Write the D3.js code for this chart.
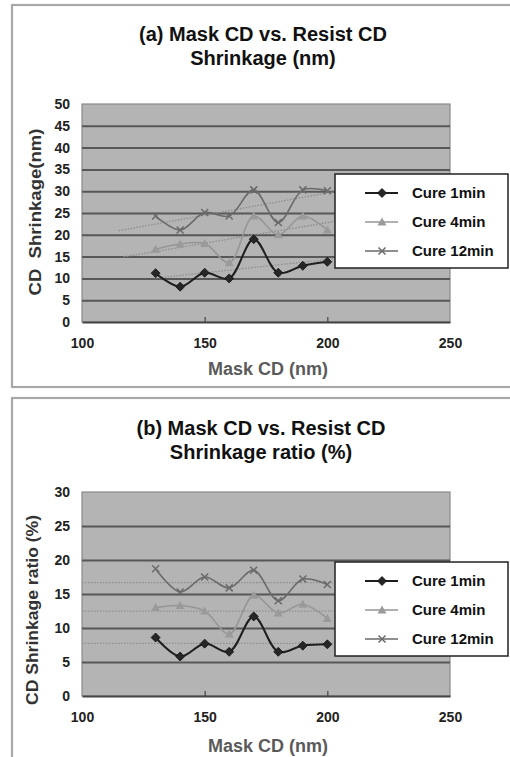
<!DOCTYPE html>
<html>
<head>
<meta charset="utf-8">
<script src="https://cdn.jsdelivr.net/npm/d3@7"></script>
<style>
  body { margin: 0; background: #fff; }
  svg { display: block; font-family: "Liberation Sans", Arial, sans-serif; }
  .tick text { font-weight: bold; font-size: 14px; fill: #222; }
</style>
</head>
<body>
<div id="chart"></div>
<script>
// Mask CD values (nm)
const maskCD = [130, 140, 150, 160, 170, 180, 190, 200];
const seriesNames = ['Cure 1min', 'Cure 4min', 'Cure 12min'];

// (a) resist CD shrinkage (nm)
const shrinkCure1 = [11.2, 8.1, 11.3, 10.0, 19.0, 11.3, 12.9, 13.8];
const shrinkCure4 = [16.7, 17.9, 18.0, 13.6, 24.3, 20.0, 24.3, 21.1];
const shrinkCure12 = [24.3, 21.1, 25.1, 24.3, 30.3, 22.8, 30.3, 30.1];

// (b) resist CD shrinkage ratio (%)
const ratioCure1 = [8.6, 5.8, 7.7, 6.5, 11.7, 6.5, 7.4, 7.6];
const ratioCure4 = [13.0, 13.3, 12.5, 9.1, 14.8, 12.2, 13.5, 11.4];
const ratioCure12 = [18.7, 15.3, 17.5, 15.9, 18.5, 14.0, 17.2, 16.4];

// tick labels
const xTicks = [100, 150, 200, 250];
const yTicksA = [0, 5, 10, 15, 20, 25, 30, 35, 40, 45, 50];
const yTicksB = [0, 5, 10, 15, 20, 25, 30];

// trendline extents (mask CD) for (a), per series
const trendFromA = [130, 117, 115];
const trendToA = [215, 215, 215];

const W = 510, H = 757;
const svg = d3.select('#chart').append('svg')
  .attr('width', W)
  .attr('height', H);

const lineColors = ['#1e1e1e', '#969696', '#6a6a6a'];
const lineWidths = [2, 1.6, 1.6];

/* least squares fit, used for the dotted trendlines in (a) */
function linearFit(xs, ys) {
  const mx = d3.mean(xs), my = d3.mean(ys);
  let sxy = 0, sxx = 0;
  xs.forEach((x, i) => { sxy += (x - mx) * (ys[i] - my); sxx += (x - mx) * (x - mx); });
  const slope = sxy / sxx;
  return (x) => my + slope * (x - mx);
}

/* flat average line, used in (b) */
function meanFit(xs, ys) {
  const my = d3.mean(ys);
  return () => my;
}

function drawMarker(g, type, color) {
  if (type === 0) {
    g.append('path').attr('d', 'M0,-4.5L4.5,0L0,4.5L-4.5,0Z').attr('fill', '#262626').attr('stroke', '#111').attr('stroke-width', 0.8);
  } else if (type === 1) {
    g.append('path').attr('d', 'M0,-4.5L4.5,3.5L-4.5,3.5Z').attr('fill', '#9a9a9a');
  } else {
    g.append('path').attr('d', 'M-3.5,-3.5L3.5,3.5M-3.5,3.5L3.5,-3.5').attr('stroke', color).attr('stroke-width', 1.5).attr('fill', 'none');
  }
}

function drawPanel(cfg) {
  const panel = svg.append('g');

  /* outer frame */
  panel.append('rect')
    .attr('x', cfg.frame.x).attr('y', cfg.frame.y)
    .attr('width', cfg.frame.w).attr('height', cfg.frame.h)
    .attr('fill', '#fff').attr('stroke', '#a8a8a8').attr('stroke-width', 2.2);

  /* title */
  const title = panel.append('text')
    .attr('text-anchor', 'middle')
    .attr('font-weight', 'bold')
    .attr('font-size', 20)
    .attr('fill', '#111');
  cfg.title.forEach((t, i) => {
    title.append('tspan').attr('x', cfg.titleX).attr('y', cfg.titleY + i * 24).text(t);
  });

  const x = d3.scaleLinear().domain([100, 250]).range([cfg.left, cfg.right]);
  const y = d3.scaleLinear().domain([0, cfg.yMax]).range([cfg.bottom, cfg.top]);

  /* plot area */
  panel.append('rect')
    .attr('x', cfg.left).attr('y', cfg.top)
    .attr('width', cfg.right - cfg.left).attr('height', cfg.bottom - cfg.top)
    .attr('fill', '#b4b4b4').attr('stroke', '#8a8a8a').attr('stroke-width', 1.2);

  /* horizontal gridlines */
  panel.append('g')
    .attr('transform', `translate(${cfg.left},0)`)
    .call(d3.axisLeft(y).tickValues(cfg.yTicks.slice(1, -1)).tickSize(-(cfg.right - cfg.left)).tickFormat(''))
    .call((g) => g.select('.domain').remove())
    .call((g) => g.selectAll('line').attr('stroke', '#575757').attr('stroke-width', 2));

  /* y axis labels */
  panel.append('g')
    .attr('transform', `translate(${cfg.left - 12},0)`)
    .call(d3.axisLeft(y).tickValues(cfg.yTicks).tickSize(0).tickPadding(0))
    .call((g) => g.select('.domain').remove());

  /* x axis */
  panel.append('g')
    .attr('transform', `translate(0,${cfg.bottom})`)
    .call(d3.axisBottom(x).tickValues(xTicks).tickSize(0).tickPadding(16))
    .call((g) => g.select('.domain').attr('stroke', '#444').attr('stroke-width', 2));
  panel.append('g')
    .attr('transform', `translate(0,${cfg.bottom})`)
    .call(d3.axisTop(x).tickValues([150, 200]).tickSize(5).tickFormat(''))
    .call((g) => g.select('.domain').remove())
    .call((g) => g.selectAll('line').attr('stroke', '#444').attr('stroke-width', 1.2));

  /* axis titles */
  panel.append('text')
    .attr('x', cfg.xTitleX).attr('y', cfg.xTitleY)
    .attr('text-anchor', 'middle')
    .attr('font-weight', 'bold').attr('font-size', 18)
    .attr('fill', '#5a5a5a')
    .text('Mask CD (nm)');
  panel.append('text')
    .attr('transform', `translate(${cfg.yTitleX},${cfg.yTitleY}) rotate(-90)`)
    .attr('text-anchor', 'middle')
    .attr('font-weight', 'bold').attr('font-size', 16)
    .attr('fill', '#333')
    .attr('textLength', cfg.yTitleLen)
    .attr('lengthAdjust', 'spacingAndGlyphs')
    .style('white-space', 'pre')
    .text(cfg.yTitle);

  /* dotted trendlines */
  cfg.series.forEach((vals, i) => {
    const fit = cfg.fit(maskCD, vals);
    const x0 = cfg.trendFrom[i], x1 = cfg.trendTo[i];
    panel.append('line')
      .attr('x1', x(x0)).attr('y1', y(fit(x0)))
      .attr('x2', x(x1)).attr('y2', y(fit(x1)))
      .attr('stroke', '#8e8e8e')
      .attr('stroke-width', 1.3)
      .attr('stroke-dasharray', '1.5,1.5');
  });

  /* smoothed series lines and markers */
  const line = d3.line()
    .x((d) => x(d[0]))
    .y((d) => y(d[1]))
    .curve(d3.curveCatmullRom.alpha(0.5));

  cfg.series.forEach((vals, i) => {
    const pts = maskCD.map((m, j) => [m, vals[j]]);
    panel.append('path')
      .datum(pts)
      .attr('d', line)
      .attr('fill', 'none')
      .attr('stroke', lineColors[i])
      .attr('stroke-width', lineWidths[i]);
    pts.forEach((p) => {
      const g = panel.append('g').attr('transform', `translate(${x(p[0])},${y(p[1])})`);
      drawMarker(g, i, lineColors[i]);
    });
  });

  /* legend */
  const lg = panel.append('g').attr('transform', `translate(${cfg.legend.x},${cfg.legend.y})`);
  lg.append('rect')
    .attr('width', cfg.legend.w).attr('height', cfg.legend.h)
    .attr('fill', '#fff').attr('stroke', '#222').attr('stroke-width', 1.5);
  seriesNames.forEach((name, i) => {
    const row = lg.append('g').attr('transform', `translate(0,${19 + i * 29})`);
    row.append('line')
      .attr('x1', 30).attr('x2', 63)
      .attr('stroke', lineColors[i]).attr('stroke-width', lineWidths[i]);
    drawMarker(row.append('g').attr('transform', 'translate(47,0)'), i, lineColors[i]);
    row.append('text')
      .attr('x', 77).attr('dy', '0.36em')
      .attr('font-weight', 'bold').attr('font-size', 15)
      .attr('fill', '#111')
      .text(name);
  });
}

drawPanel({
  frame: { x: 12, y: 5, w: 510, h: 382 },
  title: ['(a) Mask CD vs. Resist CD', 'Shrinkage (nm)'],
  titleX: 263, titleY: 41,
  left: 82, right: 450, top: 104, bottom: 322,
  yMax: 50, yTicks: yTicksA,
  xTitleX: 268, xTitleY: 375,
  yTitle: 'CD  Shrinkage(nm)', yTitleX: 41, yTitleY: 212, yTitleLen: 167,
  series: [shrinkCure1, shrinkCure4, shrinkCure12],
  fit: linearFit,
  trendFrom: trendFromA, trendTo: trendToA,
  legend: { x: 335, y: 174, w: 173, h: 94 },
});

drawPanel({
  frame: { x: 12, y: 398, w: 510, h: 380 },
  title: ['(b) Mask CD vs. Resist CD', 'Shrinkage ratio (%)'],
  titleX: 261, titleY: 435,
  left: 82, right: 450, top: 492, bottom: 696,
  yMax: 30, yTicks: yTicksB,
  xTitleX: 268, xTitleY: 752,
  yTitle: 'CD Shrinkage ratio (%)', yTitleX: 38, yTitleY: 610, yTitleLen: 190,
  series: [ratioCure1, ratioCure4, ratioCure12],
  fit: meanFit,
  trendFrom: [100, 100, 100], trendTo: [250, 250, 250],
  legend: { x: 335, y: 562, w: 173, h: 94 },
});
</script>
</body>
</html>
